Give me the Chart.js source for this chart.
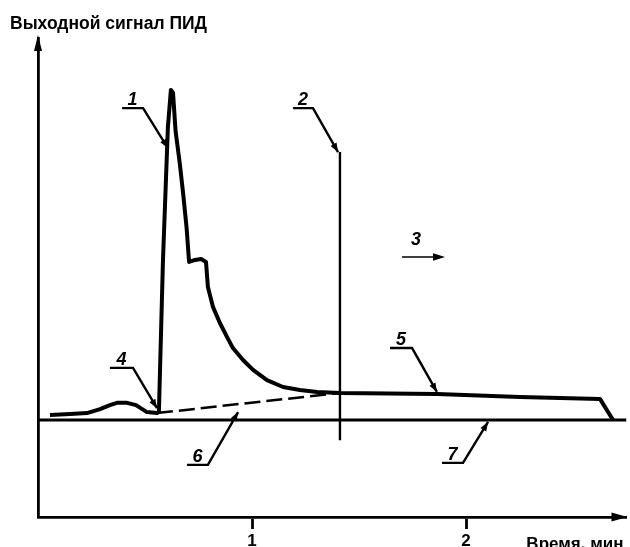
<!DOCTYPE html>
<html><head><meta charset="utf-8">
<script src="https://cdn.jsdelivr.net/npm/chart.js@4/dist/chart.umd.min.js"></script>
<style>html,body{margin:0;padding:0;background:#fff}#wrap{width:630px;height:547px;position:relative}</style>
</head><body><div id="wrap"><canvas id="c"></canvas></div>
<script>
// ---- data (time in minutes, signal in arbitrary units) ----
const curveTime   = [0.056,0.150,0.229,0.290,0.336,0.369,0.416,0.458,0.509,0.556,0.565,0.584,0.607,0.621,0.631,0.643,0.662,0.678,0.694,0.706,0.734,0.762,0.785,0.794,0.818,0.850,0.883,0.911,0.958,1.005,1.070,1.145,1.224,1.304,1.411,1.864,2.252,2.626,2.687];
const curveSignal = [1.5,1.8,2.1,3.3,4.5,5.2,5.2,4.5,2.4,2.1,2.4,48.5,88.8,100,99.1,87.5,78.0,68.8,58.5,47.9,48.5,48.8,47.9,40.3,34.2,29.4,25.2,21.8,18.2,15.2,12.1,10.0,9.1,8.5,8.2,7.9,7.0,6.4,0];
const dashedTime   = [0.556,1.411];
const dashedSignal = [2.1,8.2];
const markerTime   = [1.411,1.411];
const markerSignal = [81.2,-6.1];
const baselineTime   = [0,2.75];
const baselineSignal = [0,0];
const xTickValues = [1,2];
const yAxisTitle = 'Выходной сигнал ПИД';
const xAxisTitle = 'Время, мин';
const calloutLabels = ['1','2','4','5','6','7'];
const calloutUnderline = [[0.393,0.491,94.5],[1.192,1.285,94.5],[0.336,0.444,15.8],[1.645,1.748,21.8],[0.696,0.794,-13.6],[1.888,1.986,-13.0]];
const calloutTargets = [[0.607,82.4],[1.402,81.2],[0.556,3.6],[1.864,8.5],[0.935,2.4],[2.103,-0.6]];
const arrowLabel = '3';
const arrowLabelAt = [1.766,54.5];
const arrowSpan = [1.701,1.902,49.4];

const pts = (xs,ys)=>xs.map((x,i)=>({x:x,y:ys[i]}));
const FONT = '"Liberation Sans", Arial, sans-serif';

function arrowHead(ctx,x0,y0,x1,y1,len,half){
  const a=Math.atan2(y1-y0,x1-x0);
  ctx.beginPath();
  ctx.moveTo(x1,y1);
  ctx.lineTo(x1-len*Math.cos(a)+half*Math.sin(a), y1-len*Math.sin(a)-half*Math.cos(a));
  ctx.lineTo(x1-len*Math.cos(a)-half*Math.sin(a), y1-len*Math.sin(a)+half*Math.cos(a));
  ctx.closePath(); ctx.fill();
}

const decor = {
  id:'decor',
  afterDraw(chart){
    const ctx=chart.ctx, xs=chart.scales.x, ys=chart.scales.y, ca=chart.chartArea;
    const X=v=>xs.getPixelForValue(v), Y=v=>ys.getPixelForValue(v);
    ctx.save();
    ctx.fillStyle='#000'; ctx.strokeStyle='#000';
    // axis arrows
    arrowHead(ctx,ca.left,ca.top+20,ca.left,ca.top-3,16,4);
    arrowHead(ctx,ca.right-20,ca.bottom,ca.right+1,ca.bottom,16,4.5);
    // callouts
    ctx.lineWidth=2.4; ctx.lineCap='butt';
    ctx.font='bold italic 18px '+FONT; ctx.textAlign='center'; ctx.textBaseline='alphabetic';
    calloutLabels.forEach((t,i)=>{
      const [u0,u1,uy]=calloutUnderline[i], [tx,ty]=calloutTargets[i];
      const x0=X(u0), x1=X(u1), y=Y(uy), px=X(tx), py=Y(ty);
      ctx.beginPath(); ctx.moveTo(x0,y); ctx.lineTo(x1,y); ctx.lineTo(px,py); ctx.stroke();
      arrowHead(ctx,x1,y,px,py,9,3.4);
      ctx.fillText(t,(x0+x1)/2,y-3);
    });
    // arrow 3
    ctx.lineWidth=1.6;
    const ax0=X(arrowSpan[0]), ax1=X(arrowSpan[1]), ay=Y(arrowSpan[2]);
    ctx.beginPath(); ctx.moveTo(ax0,ay); ctx.lineTo(ax1-6,ay); ctx.stroke();
    arrowHead(ctx,ax0,ay,ax1,ay,12,3.8);
    ctx.textBaseline='middle';
    ctx.fillText(arrowLabel,X(arrowLabelAt[0]),Y(arrowLabelAt[1]));
    // axis titles
    ctx.font='bold 17.5px '+FONT; ctx.textAlign='left'; ctx.textBaseline='middle';
    ctx.fillText(yAxisTitle,10,24);
    ctx.font='bold 17px '+FONT; ctx.textAlign='right';
    ctx.fillText(xAxisTitle,ca.right-3,ca.bottom+27);
    ctx.restore();
  }
};

new Chart(document.getElementById('c'),{
  type:'scatter',
  data:{datasets:[
    {data:pts(curveTime,curveSignal),showLine:true,borderColor:'#000',borderWidth:4,pointRadius:0,tension:0,borderJoinStyle:'round'},
    {data:pts(dashedTime,dashedSignal),showLine:true,borderColor:'#000',borderWidth:2.5,borderDash:[16,6],pointRadius:0},
    {data:pts(markerTime,markerSignal),showLine:true,borderColor:'#000',borderWidth:2.4,pointRadius:0},
    {data:pts(baselineTime,baselineSignal),showLine:true,borderColor:'#000',borderWidth:2.8,pointRadius:0}
  ]},
  options:{
    responsive:true,maintainAspectRatio:false,animation:false,
    layout:{padding:{left:38,top:38,right:3.5,bottom:0}},
    plugins:{legend:{display:false},tooltip:{enabled:false}},
    scales:{
      x:{type:'linear',min:0,max:2.75,
         afterBuildTicks:s=>{s.ticks=xTickValues.map(v=>({value:v}));},
         afterFit:s=>{s.height=30;},
         grid:{display:true,drawOnChartArea:false,drawTicks:true,tickLength:12,tickWidth:2.8,tickColor:'#000'},
         border:{display:true,color:'#000',width:2.8},
         ticks:{color:'#000',padding:2,maxRotation:0,font:{family:FONT,size:17,weight:'bold'},callback:v=>String(v)}},
      y:{type:'linear',min:-29.39,max:115.76,
         afterFit:s=>{s.width=0;},
         grid:{display:false,drawTicks:false},
         border:{display:true,color:'#000',width:2.8},
         ticks:{display:false}}
    }
  },
  plugins:[decor]
});
</script></body></html>
